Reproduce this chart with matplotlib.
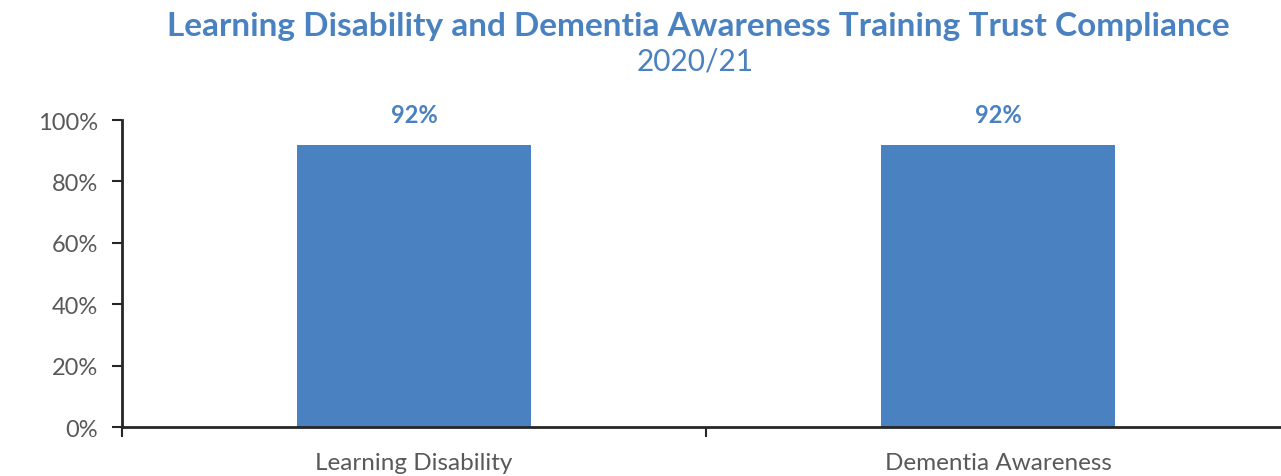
import matplotlib
matplotlib.use("Agg")
import matplotlib.pyplot as plt

# training compliance per course, 2020/21
courses = ["Learning Disability", "Dementia Awareness"]
compliance = [92, 92]
yticks = [0, 20, 40, 60, 80, 100]

blue = "#4a81c0"
grey = "#595959"

plt.rcParams['font.family'] = ['Lato', 'DejaVu Sans']

fig = plt.figure(figsize=(12.81, 4.77), dpi=100)
ax = fig.add_axes([0.0952, 0.1027, 0.912, 0.6436])

x = list(range(len(courses)))
ax.bar(x, compliance, width=0.4, color=blue)

for xi, v in zip(x, compliance):
    ax.text(xi, v + 6, f"{v}%", ha="center", va="bottom", color=blue,
            fontsize=17, fontweight="bold")

ax.set_xlim(-0.5, len(courses) - 0.5)
ax.set_ylim(0, 100)
ax.set_yticks(yticks)
ax.set_yticklabels([f"{t}%" for t in yticks])

# category boundaries get the tick marks, centres get the labels
ax.set_xticks([i - 0.5 for i in range(len(courses) + 1)])
ax.set_xticklabels([])
ax.set_xticks(x, minor=True)
ax.set_xticklabels(courses, minor=True)
ax.tick_params(axis="x", which="minor", length=0, pad=18, labelsize=17.5, labelcolor=grey)
ax.tick_params(axis="x", which="major", length=7, width=1.5, direction="out", color="#262626")
ax.tick_params(axis="y", length=7, width=1.5, direction="out", color="#262626",
               labelsize=17, labelcolor=grey, pad=10)

for s in ["top", "right"]:
    ax.spines[s].set_visible(False)
for s in ["left", "bottom"]:
    ax.spines[s].set_linewidth(2)
    ax.spines[s].set_color("#262626")

fig.text(0.545, 0.945, "Learning Disability and Dementia Awareness Training Trust Compliance",
         ha="center", va="center", color=blue, fontsize=24, fontweight="bold")
fig.text(0.543, 0.872, "2020/21", ha="center", va="center", color=blue, fontsize=21.5)

fig.savefig("out.png", dpi=100)
